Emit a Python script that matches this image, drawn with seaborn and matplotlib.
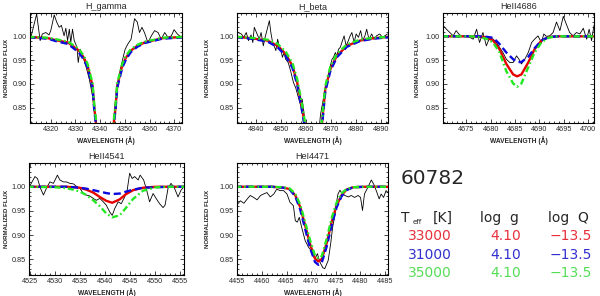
"""Line-profile fits for star 60782: observed spectrum vs three model grids."""

import matplotlib

matplotlib.use("Agg")

import matplotlib.pyplot as plt
import seaborn as sns
from matplotlib.ticker import MultipleLocator

# ---------------------------------------------------------------- data ---
TITLES = ["H_gamma", "H_beta", "HeII4686", "HeII4541", "HeI4471"]

MODEL_TEFF = ["33000", "31000", "35000"]
MODEL_LOGG = ["4.10", "4.10", "4.10"]
MODEL_LOGQ = ["\u221213.5", "\u221213.5", "\u221213.5"]

# H_gamma
HG_OBS_WL = [4312.1, 4314.3, 4315.7, 4316.6, 4318.0, 4319.3, 4320.0, 4321.4, 4322.4, 4323.4,
             4324.3, 4325.4, 4326.1, 4326.8, 4327.5, 4328.1, 4328.8, 4329.5, 4330.6, 4331.1,
             4331.9, 4332.9, 4334.2, 4335.6, 4336.9, 4338.0, 4339.0, 4340.5, 4342.0, 4343.5,
             4345.1, 4346.0, 4347.1, 4348.2, 4349.1, 4350.1, 4351.2, 4352.5, 4353.9, 4355.0,
             4355.9, 4356.9, 4357.9, 4359.3, 4360.7, 4362.0, 4363.4, 4364.7, 4366.1, 4367.4,
             4368.8, 4369.9, 4371.2, 4372.8]
HG_OBS_FLUX = [1.001, 1.047, 0.991, 1.005, 1.008, 1.003, 1.012, 1.045, 1.030, 1.019,
               1.023, 1.001, 1.017, 0.991, 1.015, 0.987, 1.015, 0.991, 0.977, 0.945,
               0.973, 0.959, 0.938, 0.910, 0.875, 0.832, 0.780, 0.720, 0.700, 0.730,
               0.800, 0.854, 0.896, 0.931, 0.952, 0.973, 0.984, 0.994, 1.037, 1.030,
               1.008, 1.019, 1.008, 0.987, 1.001, 1.012, 1.008, 0.994, 1.008, 0.998,
               1.001, 1.014, 1.005, 0.998]
HG_MOD_WL = [4311, 4319, 4322, 4327, 4331.4, 4333.4, 4334.9, 4335.9, 4336.9, 4337.6, 4338.3,
             4339.9, 4341.9, 4343.9, 4345.5, 4346.2, 4346.9, 4347.9, 4348.9, 4350.4, 4352.4,
             4355, 4358, 4362, 4365, 4374]
HG_RED = [0.999, 0.996, 0.992, 0.987, 0.970, 0.955, 0.938, 0.917, 0.896, 0.850, 0.818,
          0.740, 0.600, 0.740, 0.818, 0.850, 0.896, 0.917, 0.938, 0.955, 0.970,
          0.980, 0.987, 0.992, 0.996, 0.999]
HG_BLUE = [0.998, 0.995, 0.990, 0.984, 0.966, 0.951, 0.934, 0.913, 0.892, 0.846, 0.815,
           0.730, 0.580, 0.730, 0.815, 0.846, 0.892, 0.913, 0.934, 0.951, 0.967,
           0.978, 0.986, 0.991, 0.995, 0.998]
HG_GREEN = [0.999, 0.997, 0.994, 0.989, 0.973, 0.959, 0.942, 0.922, 0.902, 0.857, 0.825,
            0.750, 0.620, 0.750, 0.825, 0.857, 0.902, 0.922, 0.942, 0.959, 0.973,
            0.982, 0.989, 0.993, 0.997, 0.999]

# H_beta
HB_OBS_WL = [4832.8, 4834.1, 4835.1, 4836.1, 4837.0, 4838.0, 4838.7, 4839.3, 4840.4, 4841.3,
             4842.0, 4842.9, 4843.6, 4844.3, 4845.3, 4845.9, 4846.6, 4847.2, 4847.9, 4848.6,
             4849.2, 4849.9, 4850.5, 4851.2, 4851.8, 4852.8, 4853.8, 4854.9, 4855.8, 4856.7,
             4857.8, 4858.4, 4859.1, 4860.5, 4862.5, 4864.5, 4865.7, 4866.8, 4867.2, 4868.0,
             4868.9, 4869.6, 4870.3, 4870.9, 4871.6, 4872.2, 4872.9, 4873.6, 4874.2, 4875.1,
             4875.9, 4876.8, 4877.5, 4878.2, 4879.1, 4879.9, 4880.8, 4881.7, 4882.5, 4883.4,
             4884.1, 4885.0, 4886.1, 4887.0, 4888.0, 4889.3, 4890.4, 4891.3, 4892.4]
HB_OBS_FLUX = [1.008, 1.005, 0.998, 1.008, 0.991, 1.003, 0.987, 1.019, 1.005, 0.994,
               1.008, 0.980, 0.998, 1.012, 1.033, 1.008, 0.987, 0.980, 0.970, 0.994,
               0.980, 0.973, 0.956, 0.966, 0.952, 0.945, 0.927, 0.903, 0.892, 0.875,
               0.854, 0.868, 0.839, 0.760, 0.700, 0.770, 0.836, 0.868, 0.882, 0.903,
               0.917, 0.938, 0.952, 0.956, 0.966, 0.959, 0.973, 0.977, 0.987, 1.001,
               0.980, 0.991, 1.001, 1.008, 0.987, 1.005, 0.998, 1.012, 0.991, 1.001,
               1.015, 0.994, 1.005, 0.994, 1.001, 1.005, 0.998, 1.001, 1.005]
HB_MOD_WL = [4832, 4838, 4844.6, 4848.6, 4851.8, 4854.5, 4856.4, 4858.4, 4859.3, 4860.8,
             4862.8, 4864.8, 4866.3, 4867.6, 4869.6, 4872.2, 4876.2, 4881.4, 4886.7, 4893]
HB_RED = [0.999, 0.996, 0.991, 0.980, 0.963, 0.938, 0.903, 0.847, 0.818, 0.740,
          0.620, 0.740, 0.818, 0.889, 0.931, 0.959, 0.980, 0.991, 0.996, 0.999]
HB_BLUE = [0.998, 0.995, 0.989, 0.977, 0.959, 0.934, 0.899, 0.842, 0.812, 0.730,
           0.600, 0.730, 0.812, 0.884, 0.927, 0.956, 0.978, 0.990, 0.995, 0.998]
HB_GREEN = [0.999, 0.997, 0.993, 0.984, 0.968, 0.944, 0.910, 0.855, 0.826, 0.750,
            0.640, 0.750, 0.826, 0.896, 0.936, 0.963, 0.983, 0.993, 0.997, 0.999]

# HeII 4686
H86_OBS_WL = [4670.2, 4670.9, 4671.6, 4672.3, 4672.9, 4673.6, 4674.3, 4675.0, 4675.7, 4676.4,
              4677.1, 4677.7, 4678.4, 4679.1, 4679.8, 4680.5, 4681.2, 4681.8, 4682.5, 4683.2,
              4683.9, 4684.6, 4685.3, 4685.8, 4686.3, 4687.0, 4687.7, 4688.4, 4689.0, 4689.7,
              4690.4, 4690.9, 4691.4, 4692.1, 4692.8, 4693.5, 4694.2, 4694.9, 4695.5, 4696.2,
              4696.9, 4697.6, 4698.3, 4699.0, 4699.7, 4700.2, 4700.7, 4701.2]
H86_OBS_FLUX = [1.023, 1.015, 1.008, 1.001, 1.012, 1.003, 1.000, 1.001, 0.998, 0.994,
                1.015, 0.987, 1.008, 0.980, 0.998, 0.994, 0.987, 0.977, 0.966, 0.952,
                0.945, 0.945, 0.959, 0.952, 0.942, 0.952, 0.966, 0.987, 0.994, 1.001,
                0.987, 1.005, 1.000, 1.001, 1.008, 1.030, 1.012, 1.042, 1.026, 1.008,
                1.001, 1.008, 1.005, 1.017, 0.994, 1.015, 0.991, 1.023]
H86_MOD_WL = [4670, 4676, 4677.7, 4679.1, 4680.5, 4681.8, 4683.2, 4684.6, 4685.4, 4686.3,
              4687.7, 4689.0, 4690.4, 4691.8, 4693.5, 4696, 4701.5]
H86_RED = [1.000, 1.000, 0.999, 0.998, 0.991, 0.973, 0.942, 0.920, 0.916, 0.920,
           0.945, 0.973, 0.991, 0.998, 1.000, 1.000, 1.000]
H86_BLUE = [1.000, 1.000, 1.000, 0.999, 0.997, 0.984, 0.966, 0.952, 0.946, 0.946,
            0.957, 0.975, 0.991, 0.998, 1.000, 1.000, 1.000]
H86_GREEN = [1.000, 1.000, 0.998, 0.995, 0.987, 0.966, 0.927, 0.901, 0.894, 0.901,
             0.935, 0.966, 0.987, 0.997, 1.000, 1.000, 1.000]

# HeII 4541
H41_OBS_WL = [4524.9, 4525.3, 4526.0, 4526.5, 4527.1, 4527.7, 4528.3, 4529.0, 4529.7, 4530.5,
              4531.0, 4531.7, 4532.3, 4533.0, 4533.7, 4534.3, 4535.0, 4535.7, 4536.3, 4537.0,
              4537.7, 4538.3, 4539.0, 4539.7, 4540.3, 4541.0, 4541.5, 4542.0, 4542.7, 4543.3,
              4544.0, 4544.5, 4545.0, 4545.5, 4546.0, 4546.7, 4547.1, 4547.8, 4548.3, 4549.0,
              4549.7, 4550.3, 4551.0, 4551.7, 4552.1, 4552.7, 4553.3, 4554.0, 4554.7, 4555.3,
              4555.9]
H41_OBS_FLUX = [1.000, 1.008, 1.021, 1.017, 0.997, 0.983, 0.997, 1.010, 1.007, 1.024,
                1.014, 1.010, 1.010, 1.007, 1.006, 1.001, 0.997, 0.986, 0.983, 0.981,
                0.976, 0.972, 0.976, 0.969, 0.962, 0.948, 0.941, 0.955, 0.969, 0.965,
                0.979, 0.993, 1.028, 1.017, 1.021, 1.014, 1.024, 1.014, 0.997, 0.969,
                0.986, 0.976, 0.965, 0.957, 0.962, 0.997, 1.007, 0.997, 0.979, 0.993,
                1.000]
H41_MOD_WL = [4524.5, 4530, 4532.3, 4533.7, 4535.0, 4536.3, 4537.7, 4539.0, 4540.3, 4541.5,
              4543.0, 4544.3, 4545.7, 4547.7, 4550.3, 4553, 4556.2]
H41_RED = [1.000, 1.000, 1.000, 0.999, 0.998, 0.994, 0.988, 0.979, 0.971, 0.967,
           0.974, 0.985, 0.993, 0.998, 1.000, 1.000, 1.000]
H41_BLUE = [1.000, 1.000, 1.000, 0.999, 0.998, 0.996, 0.993, 0.990, 0.987, 0.985,
            0.986, 0.990, 0.994, 0.998, 0.999, 1.000, 1.000]
H41_GREEN = [1.000, 0.999, 0.997, 0.994, 0.990, 0.983, 0.972, 0.960, 0.945, 0.937,
             0.941, 0.957, 0.975, 0.992, 0.999, 1.000, 1.000]

# HeI 4471
H71_OBS_WL = [4454.9, 4455.6, 4456.3, 4457.0, 4457.6, 4458.3, 4459.0, 4459.7, 4460.3, 4461.0,
              4461.7, 4462.4, 4463.0, 4463.7, 4464.4, 4465.1, 4465.7, 4466.4, 4466.8, 4467.2,
              4467.6, 4468.1, 4468.8, 4469.5, 4470.1, 4470.8, 4471.3, 4471.8, 4472.4, 4472.8,
              4473.5, 4474.0, 4474.4, 4474.9, 4475.2, 4475.5, 4475.9, 4476.4, 4476.9, 4477.6,
              4478.2, 4478.9, 4479.6, 4480.1, 4480.5, 4480.9, 4481.6, 4482.3, 4482.8, 4483.3,
              4483.9, 4484.3, 4484.8, 4485.3, 4485.7]
H71_OBS_FLUX = [0.963, 0.971, 0.966, 0.975, 0.982, 0.978, 0.973, 0.982, 0.985, 0.988,
                0.979, 0.985, 0.995, 0.992, 0.992, 0.985, 0.968, 0.961, 0.930, 0.927,
                0.937, 0.916, 0.889, 0.875, 0.868, 0.851, 0.862, 0.845, 0.833, 0.831,
                0.848, 0.882, 0.916, 0.944, 0.968, 0.985, 0.993, 0.985, 0.982, 0.979,
                0.982, 0.978, 0.982, 0.978, 0.951, 0.985, 0.999, 1.014, 1.005, 0.992,
                0.975, 0.985, 0.978, 0.992, 0.988]
H71_MOD_WL = [4454.5, 4462, 4464.4, 4465.7, 4466.8, 4467.8, 4468.8, 4469.8, 4470.8, 4471.5,
              4472.2, 4473.2, 4474.2, 4475.2, 4476.2, 4477.2, 4478.6, 4481, 4486]
H71_RED = [1.000, 1.000, 0.998, 0.995, 0.982, 0.958, 0.920, 0.882, 0.852, 0.846,
           0.851, 0.884, 0.927, 0.961, 0.982, 0.994, 0.999, 1.000, 1.000]
H71_BLUE = [1.000, 1.000, 0.998, 0.994, 0.980, 0.953, 0.913, 0.874, 0.845, 0.839,
            0.844, 0.877, 0.920, 0.957, 0.980, 0.993, 0.999, 1.000, 1.000]
H71_GREEN = [1.000, 1.000, 0.999, 0.996, 0.985, 0.963, 0.927, 0.890, 0.858, 0.852,
             0.857, 0.893, 0.935, 0.967, 0.986, 0.995, 0.999, 1.000, 1.000]

PANELS = [
    (HG_OBS_WL, HG_OBS_FLUX, HG_MOD_WL, HG_RED, HG_BLUE, HG_GREEN),
    (HB_OBS_WL, HB_OBS_FLUX, HB_MOD_WL, HB_RED, HB_BLUE, HB_GREEN),
    (H86_OBS_WL, H86_OBS_FLUX, H86_MOD_WL, H86_RED, H86_BLUE, H86_GREEN),
    (H41_OBS_WL, H41_OBS_FLUX, H41_MOD_WL, H41_RED, H41_BLUE, H41_GREEN),
    (H71_OBS_WL, H71_OBS_FLUX, H71_MOD_WL, H71_RED, H71_BLUE, H71_GREEN),
]

# ---------------------------------------------------------------- layout ---
W, H = 600, 296
# (left, top, right, bottom) in pixels
BOXES = [(30, 13, 182, 123), (237, 13, 388, 123), (443, 13, 594, 123),
         (29, 163, 184, 275), (237, 163, 388, 275)]
# right edge of the rotated y label, in pixels
YLABEL_X = [9, 210, 420, 9, 210]
XLIMS = [(4311.6, 4373.1), (4832.4, 4892.6), (4670.2, 4701.2),
         (4524.8, 4555.9), (4454.9, 4485.7)]
XSTEPS = [(10, 2), (10, 2), (5, 1), (5, 1), (5, 1)]

RED = "#e60000"
BLUE = "#0a0ae0"
GREEN = "#22e822"
TXT_RED = "#e8303a"
TXT_BLUE = "#3030d0"
TXT_GREEN = "#55dd55"


def _fx(px):
    return px / W


def _fy(py):
    return 1 - py / H


def _panel(ax, idx):
    obs_wl, obs_fl, mod_wl, red, blue, green = PANELS[idx]
    sns.lineplot(x=obs_wl, y=obs_fl, ax=ax, color="black", linewidth=0.6,
                 sort=False, estimator=None)
    sns.lineplot(x=mod_wl, y=red, ax=ax, color=RED, linewidth=1.7,
                 sort=False, estimator=None)
    sns.lineplot(x=mod_wl, y=blue, ax=ax, color=BLUE, linewidth=1.7,
                 linestyle=(0, (3.0, 1.6)), sort=False, estimator=None)
    sns.lineplot(x=mod_wl, y=green, ax=ax, color=GREEN, linewidth=1.7,
                 linestyle=(0, (2.6, 1.2, 0.7, 1.2)), sort=False, estimator=None)

    ax.set_xlim(*XLIMS[idx])
    ax.set_ylim(0.818, 1.049)
    major, minor = XSTEPS[idx]
    ax.xaxis.set_major_locator(MultipleLocator(major))
    ax.xaxis.set_minor_locator(MultipleLocator(minor))
    ax.set_yticks([0.85, 0.90, 0.95, 1.00])
    ax.set_yticklabels(["0.85", "0.90", "0.95", "1.00"])
    ax.yaxis.set_minor_locator(MultipleLocator(0.01))
    ax.tick_params(which="both", direction="in", top=True, right=True,
                   labelsize=5.2, pad=2.5, width=0.6)
    ax.tick_params(which="major", length=3.2)
    ax.tick_params(which="minor", length=1.6)
    for sp in ax.spines.values():
        sp.set_linewidth(0.8)
        sp.set_color("black")

    ax.set_title(TITLES[idx], fontsize=6.5, pad=3)
    ax.set_xlabel("WAVELENGTH (\u00c5)", fontsize=4.8, fontweight="bold")
    ax.set_ylabel("NORMALIZED FLUX", fontsize=4.4, fontweight="bold")
    ax.xaxis.set_label_coords(0.5, -0.115)
    left, _, right, _ = BOXES[idx]
    ax.yaxis.set_label_coords((YLABEL_X[idx] - left) / (right - left), 0.5)


def main():
    sns.set_theme(style="ticks")
    plt.rcParams.update({
        "font.family": ["Liberation Sans", "DejaVu Sans"],
        "axes.unicode_minus": True,
    })

    fig = plt.figure(figsize=(W / 100, H / 100), dpi=100)
    fig.patch.set_facecolor("white")

    for idx, (l, t, r, b) in enumerate(BOXES):
        ax = fig.add_axes([_fx(l), _fy(b), (r - l) / W, (b - t) / H])
        _panel(ax, idx)

    # parameter table
    tfont = {"family": ["DejaVu Sans"]}
    fig.text(_fx(401), _fy(179), "60782", fontsize=14.5, va="center", ha="left", **tfont)
    fig.text(_fx(401), _fy(218), "T", fontsize=10, va="center", ha="left", **tfont)
    fig.text(_fx(413), _fy(222), "eff", fontsize=5, va="center", ha="left", **tfont)
    fig.text(_fx(433), _fy(218), "[K]", fontsize=10, va="center", ha="left", **tfont)
    fig.text(_fx(480), _fy(218), "log  g", fontsize=10, va="center", ha="left", **tfont)
    fig.text(_fx(548), _fy(218), "log  Q", fontsize=10, va="center", ha="left", **tfont)

    row_y = [236, 255, 273]
    colors = [TXT_RED, TXT_BLUE, TXT_GREEN]
    for teff, logg, logq, y, c in zip(MODEL_TEFF, MODEL_LOGG, MODEL_LOGQ, row_y, colors):
        fig.text(_fx(452), _fy(y), teff, fontsize=10, color=c, va="center", ha="right", **tfont)
        fig.text(_fx(521), _fy(y), logg, fontsize=10, color=c, va="center", ha="right", **tfont)
        fig.text(_fx(592), _fy(y), logq, fontsize=10, color=c, va="center", ha="right", **tfont)

    fig.savefig("out.png", dpi=100)
    plt.close(fig)


if __name__ == "__main__":
    main()
